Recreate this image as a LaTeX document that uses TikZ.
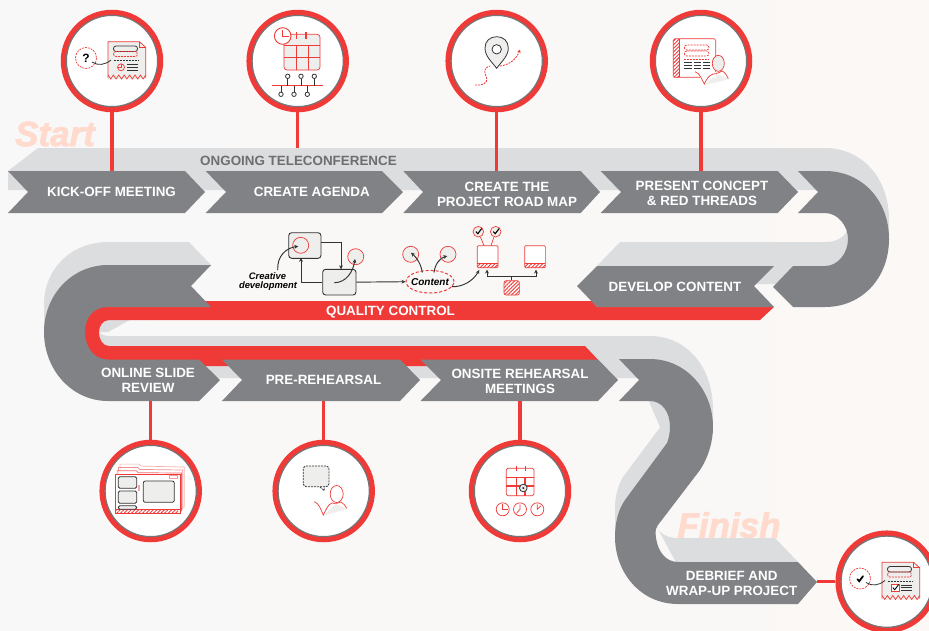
\documentclass[tikz,border=0pt]{standalone}
\usepackage{fontspec}
\setmainfont{Liberation Sans}
\newfontfamily\bigf{Liberation Sans}[BoldItalicFeatures={FakeBold=2.2}]
\usetikzlibrary{arrows.meta,patterns.meta,calc,shapes.geometric}
\definecolor{bgl}{HTML}{F8F8F8}
\definecolor{bgr}{HTML}{FBF8F6}
\definecolor{dk}{HTML}{808285}
\definecolor{lt}{HTML}{DCDDDF}
\definecolor{rd}{HTML}{EF3A38}
\definecolor{pale}{HTML}{FFDACD}
\definecolor{ic}{HTML}{EEEEEC}
\definecolor{ink}{HTML}{333333}
\definecolor{tele}{HTML}{6D6E71}
\tikzset{
  lbl/.style={text=white,font=\bfseries\fontsize{13.4}{15}\selectfont,align=center,inner sep=0pt},
  ring/.style={circle,draw=rd,line width=5.5pt,fill=white,minimum size=97pt,inner sep=0pt},
  innerring/.style={draw=dk!90!black,line width=1.2pt},
  stem/.style={draw=rd,line width=3.4pt},
  rl/.style={draw=rd,line width=.7pt},
  kl/.style={draw=ink,line width=.8pt},
  rdash/.style={draw=rd,line width=.7pt,dash pattern=on 2pt off 1pt},
  kdash/.style={draw=ink,line width=.8pt,dash pattern=on 2pt off 1pt},
  hatch/.style={pattern={Lines[angle=45,distance=2.6pt,line width=.9pt]},pattern color=rd},
  conn/.style={draw=ink,line width=.95pt,-{Stealth[length=4pt,width=3.8pt]}},
  bigword/.style={text=pale,font=\bigf\bfseries\itshape\fontsize{35}{35}\selectfont,inner sep=0pt},
  dtext/.style={text=black,font=\bfseries\itshape\fontsize{9.4}{10}\selectfont,inner sep=0pt},
}
\newcommand{\ringat}[3]{\node[ring] (#1) at (#2,#3) {};\draw[innerring] (#2,#3) circle (45.6);}
\newcommand{\docbase}{%
  \fill[ic] (108,41.7) -- (139.5,41.7) -- (145.7,47.3) -- (145.7,79) -- (108,79) -- cycle;
  \draw[rl] (108,78) -- (108,41.7) -- (139.5,41.7) -- (145.7,47.3) -- (145.7,78);
  \draw[rl] (139.5,41.7) -- (139.5,47.3) -- (145.7,47.3);
  \draw[rl] (108,75) -- (110.7,79) -- (113.4,75) -- (116.1,79) -- (118.8,75) -- (121.5,79) -- (124.2,75) -- (126.9,79) -- (129.6,75) -- (132.3,79) -- (135,75) -- (137.7,79) -- (140.4,75) -- (143.1,79) -- (145.7,75);
  \draw[kl,rounded corners=2.5pt] (113.5,46) rectangle (137.5,51.5);
  \draw[rdash,rounded corners=2.5pt] (113.5,51.5) rectangle (137.5,56.5);
  \draw[kdash] (113.5,60.5) -- (137.7,60.5);
  \foreach \yy in {64.7,67.3,70}{\draw[kl] (127,\yy) -- (137.7,\yy);}
  \draw[rdash] (86,58) circle (10.5);
  \draw[kl] (92,62) .. controls (98,66) and (105,65) .. (111,60);
}
\newcommand{\chk}[3]{\draw[black,line width=#3,line cap=round] (#1-2.6,#2+.2) -- (#1-.8,#2+2.2) -- (#1+3,#2-2.8);}
\newcommand{\clockat}[4]{\draw[rl] (#1,#2) circle (6.5);\draw[rl] (#1,#2-5) -- (#1,#2) -- (#1+#3,#2+#4);}
\begin{document}
\begin{tikzpicture}[x=1pt,y=-1pt]
\useasboundingbox (0,0) rectangle (929,630);
\shade[left color=bgl,right color=bgr] (0,0) rectangle (929,630);

% big words
\node[bigword] (startw) at (55,134) {Start};
\node[bigword] (finishw) at (729,525) {Finish};

% light ribbon
\fill[lt] (8,171) -- (38,148) -- (825,148) .. controls (862,148) and (889,178) .. (889,220) -- (889,240) -- (856,240) -- (835,205) -- (817,190) -- (8,190) -- cycle;
\fill[lt] (597,266) -- (620,242) -- (825,242) .. controls (836,242) and (844,238) .. (848,229) -- (860,260) -- (793,284) -- (754,284) -- (597,284) -- cycle;
\fill[lt] (211,265) -- (189,242) -- (108,242) .. controls (72,242) and (44,268) .. (44,305) -- (44,332) -- (108,332) -- (191,286) -- cycle;
\fill[lt] (99,332) .. controls (102,335) and (105,336) .. (110,336) -- (650,336) .. controls (686,336) and (713,366) .. (713,410) -- (713,427) -- (660,427) -- (639,378) -- (110,378) -- (99,378) -- cycle;
\fill[lt] (670,414) -- (623,477) .. controls (618,485) and (615,497) .. (615,507) -- (615,540) -- (670,440) -- cycle;
\fill[lt] (657,527) .. controls (660,534) and (668,538) .. (677,538) -- (775,538) -- (798,562) -- (680,570) -- cycle;

% red band
\fill[rd] (205,301) -- (592,301) -- (597,307) -- (774,307) -- (760,320) -- (109,320)
  .. controls (103,320) and (99,326) .. (99,332) .. controls (99,340) and (103,346) .. (109,346)
  -- (585,346) -- (604,366) -- (108,366) .. controls (85,366) and (75,350) .. (75,332) .. controls (75,315) and (85,301) .. (108,301) -- cycle;

% dark ribbon
\fill[dk] (8,171) -- (185,171) -- (205,192) -- (185,213) -- (8,213) -- (28,192) -- cycle;
\fill[dk] (205.7,171) -- (382,171) -- (403,192) -- (382,213) -- (205.7,213) -- (226,192) -- cycle;
\fill[dk] (403.3,171) -- (580.7,171) -- (600,192) -- (580.7,213) -- (403.3,213) -- (423,192) -- cycle;
\fill[dk] (600.7,171) -- (777.7,171) -- (798,192) -- (777.7,213) -- (600.7,213) -- (621,192) -- cycle;
\fill[dk] (798,171) -- (825,171) .. controls (862,171) and (889,200) .. (889,239) .. controls (889,278) and (862,307) .. (825,307) -- (793,307) -- (773,287) -- (793,266) -- (825,266) .. controls (838,266) and (848,253) .. (848,239) .. controls (848,226) and (838,213) .. (825,213) -- (798,213) -- (818,192) -- cycle;
\fill[dk] (577,286) -- (597,266) -- (774,266) -- (754,286) -- (774,307) -- (597,307) -- cycle;
\fill[dk] (211,265) -- (108,265) .. controls (72,265) and (44,295) .. (44,332) .. controls (44,370) and (72,401) .. (108,401) -- (199,401) -- (220,380) -- (199,359.5) -- (108,359.5) .. controls (93,359.5) and (85,346) .. (85,332) .. controls (85,318) and (93,307) .. (108,307) -- (211,307) -- (191,286) -- cycle;
\fill[dk] (222,359.5) -- (400,359.5) -- (420,380) -- (400,401) -- (222,401) -- (242,380) -- cycle;
\fill[dk] (420.5,359.5) -- (598,359.5) -- (618,380) -- (598,401) -- (420.5,401) -- (441,380) -- cycle;
\fill[dk] (619,359) -- (650,359) .. controls (686,359) and (713,390) .. (713,427) .. controls (713,442) and (708,458) .. (700,470) -- (658,525) .. controls (654,530) and (656,535) .. (656,538) .. controls (658,552) and (666,562) .. (678,562) -- (798,562) -- (817,582) -- (798,604) -- (678,604) .. controls (640,604) and (615,572) .. (615,537) .. controls (615,523) and (618,510) .. (625,500) -- (667,443) .. controls (669,438) and (670,432) .. (670,427) .. controls (670,412) and (662,401) .. (650,401) -- (619,401) -- (639,380) -- cycle;

% labels
\node[text=tele,font=\bfseries\fontsize{13.4}{15}\selectfont,inner sep=0pt] (tele) at (298.5,160.5) {ONGOING TELECONFERENCE};
\node[lbl] (t1) at (111.5,191.5) {KICK-OFF MEETING};
\node[lbl] (t2) at (311.8,191.5) {CREATE AGENDA};
\node[lbl] (t3) at (507,194) {CREATE THE\\PROJECT ROAD MAP};
\node[lbl] (t4) at (702,193.5) {PRESENT CONCEPT\\\& RED THREADS};
\node[lbl] (t5) at (675,286.5) {DEVELOP CONTENT};
\node[lbl] (tq) at (390.5,312.5) {QUALITY CONTROL};
\node[lbl] (t6) at (148,380.7) {ONLINE SLIDE\\REVIEW};
\node[lbl] (t7) at (323.5,379.5) {PRE-REHEARSAL};
\node[lbl] (t8) at (520,381) {ONSITE REHEARSAL\\MEETINGS};
\node[lbl] (t9) at (731.7,583.5) {DEBRIEF AND\\WRAP-UP PROJECT};

% stems
\coordinate (e1) at (112,171);
\coordinate (e2) at (297.7,148);
\coordinate (e3) at (496.7,171);
\coordinate (e4) at (701,171);
\coordinate (e5) at (150.7,401);
\coordinate (e6) at (323.7,401);
\coordinate (e7) at (520,401);
\coordinate (e8) at (817,581.7);
% rings
\ringat{c1}{112}{61}
\ringat{c2}{297.7}{61}
\ringat{c3}{496.7}{61}
\ringat{c4}{701}{61}
\ringat{c5}{150.7}{491}
\ringat{c6}{323.7}{491}
\ringat{c7}{520}{491}
\ringat{c8}{886.7}{581.7}
\draw[stem] (c1) -- (e1);
\draw[stem] (c2) -- (e2);
\draw[stem] (c3) -- (e3);
\draw[stem] (c4) -- (e4);
\draw[stem] (c5) -- (e5);
\draw[stem] (c6) -- (e6);
\draw[stem] (c7) -- (e7);
\draw[stem] (c8) -- (e8);

% icon 1: document with question
\docbase
\draw[rl] (121,67.3) circle (3.5);\draw[rl] (121,63.8) -- (121,67.3) -- (117.5,67.3);
\node[text=black,font=\bfseries\fontsize{12}{12}\selectfont,inner sep=0pt] (q) at (86,58.5) {?};

% icon 8: document with check
\begin{scope}[shift={(774,520.5)}]
\docbase
\draw[rl,fill=white] (117.5,63.5) rectangle (125,71);
\chk{121.5}{67}{.9pt}
\chk{86}{58.5}{1.8pt}
\end{scope}

% icon 2: calendar and timeline
\draw[rl,fill=ic,rounded corners=3pt] (284,34.3) rectangle (320,70);
\draw[rl] (296,45.7) -- (296,70) (308,45.7) -- (308,70) (284,45.7) -- (320,45.7) (284,57.7) -- (320,57.7);
\draw[draw=rd,line width=1.1pt] (296.7,31.7) -- (296.7,39.3) (306,31.7) -- (306,39.3);
\draw[rl,fill=white,line width=.9pt] (282.7,36) circle (8.3);
\draw[rl] (282.7,30) -- (282.7,36) -- (288.5,36);
\draw[rl,line width=.9pt] (271.7,85.7) -- (323.3,85.7);
\foreach \xx in {287.7,301,314.3}{\draw[kl] (\xx,78.6) -- (\xx,85.7);\draw[kl,fill=white] (\xx,76.3) circle (2.2);}
\foreach \xx in {281,294,307.3}{\draw[kl] (\xx,85.7) -- (\xx,92);\draw[kl,fill=white] (\xx,94.3) circle (2.2);}

% icon 3: map pin and route
\draw[rdash,line width=.8pt] (475,85) .. controls (482,86) and (488,83) .. (486.7,78) .. controls (484,72) and (483,68) .. (490,66);
\draw[rdash,line width=.8pt,-{Stealth[length=3.5pt,width=3.5pt]}] (500,66) .. controls (510,65) and (517,58) .. (520,49.5);
\draw[kl,fill=ic] (496.7,68.3) .. controls (491,61) and (485,56) .. (485,48) .. controls (485,41) and (490,36.7) .. (496.7,36.7) .. controls (503.4,36.7) and (508.3,41) .. (508.3,48) .. controls (508.3,56) and (502,61) .. (496.7,68.3) -- cycle;
\draw[kl,fill=white] (496.7,49.3) circle (4.7);

% icon 4: book and presenter
\draw[rl,fill=white,rounded corners=1.5pt] (673.3,38.7) rectangle (715.7,77.3);
\path[hatch] (673.3,39) rectangle (679,77);
\draw[rl] (679,38.7) -- (679,77.3);
\draw[rdash,rounded corners=2.5pt] (684.3,45) rectangle (709,50);
\draw[rdash,rounded corners=2.5pt] (684.3,51) rectangle (709,56);
\draw[rdash] (684.3,59.3) -- (709,59.3);
\foreach \yy in {62.7,65.3,68}{\draw[kl] (684.3,\yy) -- (692,\yy) (693.5,\yy) -- (701,\yy) (702.5,\yy) -- (709.5,\yy);}
\fill[ic] (705,85) -- (716,74) -- (729,79) -- cycle;
\fill[white] (700,72) rectangle (716,78);
\draw[rl] (695,71.7) .. controls (700,73) and (702,80) .. (704.3,84) .. controls (706,80) and (709,75) .. (713,74) .. controls (717,74) and (720,72) .. (722,71) .. controls (725,72) and (727,76) .. (728.3,78.7);
\draw[rl,fill=ic] (718.3,63.3) ellipse (6 and 8);

% icon 5: stacked windows
\foreach \dd/\op in {3/.4,2/.55,1/.75}{
  \draw[rl,opacity=\op,fill=white] (115.7+\dd*1.4,474-\dd*3.3) -- (135+\dd*1.4,474-\dd*3.3) -- (137+\dd*1.4,476-\dd*3.3) -- (180+\dd*1.4,476-\dd*3) -- (180+\dd*1.4,513-\dd*2) -- (115.7+\dd*1.4,513-\dd*2) -- cycle;
}
\draw[rl,fill=white] (115.7,474) rectangle (180,513.3);
\path[hatch] (115.7,509.3) rectangle (178,513.3);
\draw[rl] (115.7,509.3) -- (180,509.3);
\draw[kl,fill=ic,rounded corners=1.5pt] (118.3,476.7) rectangle (136.7,488.3);
\draw[kl,fill=ic,rounded corners=1.5pt] (118.3,491) rectangle (136.7,503.3);
\draw[kl,fill=ic,rounded corners=1.5pt] (118.3,505.7) -- (118.3,509.3) -- (136.7,509.3) -- (136.7,505.7) -- cycle;
\draw[kl,fill=ic,rounded corners=2pt] (143.3,481) rectangle (174.3,502.3);
\fill[rd!45] (138.3,485) rectangle (139.7,490.7);
\draw[rl,opacity=.5] (169,475.5) rectangle (177,478);

% icon 6: speech bubble and person
\draw[kdash,fill=ic,rounded corners=3pt] (303.3,466) rectangle (329,486.7);
\draw[kdash] (320,487) -- (324.3,490.7) -- (324.3,486.7);
\fill[ic] (323,516) -- (336,504) -- (347,509) -- cycle;
\draw[rl] (314.3,501.7) .. controls (319,503) and (321,510) .. (323.3,515) .. controls (326,510) and (328,504) .. (332,503) .. controls (336,504) and (338,503) .. (341,502) .. controls (344,503) and (345,506) .. (346.7,508.3);
\draw[rl,fill=white] (336.7,494) ellipse (6.5 and 8.5);

% icon 7: calendar and clocks
\draw[rl,fill=white,rounded corners=1.5pt] (506.3,468.3) rectangle (534,495.7);
\draw[draw=rd,line width=1.1pt] (516.7,477.3) -- (516.7,495.7) (525,477.3) -- (525,495.7) (506.3,477.3) -- (534,477.3) (506.3,486) -- (534,486);
\draw[rl,line width=1pt] (516.7,465.7) -- (516.7,471) (525,465.7) -- (525,471);
\draw[kl,fill=ic] (523.3,488) circle (3.8);
\fill[ink] (523.3,488) circle (1.2);
\clockat{502.7}{509.3}{5}{0}
\clockat{520}{509.3}{-3.5}{4}
\clockat{537.3}{509.3}{3.5}{-3.5}

% central process diagram
\node[draw=ink,line width=.9pt,fill=ic,rounded corners=3pt,minimum width=32.3pt,minimum height=25.6pt,inner sep=0pt] (boxa) at (304.85,245.5) {};
\node[draw=ink,line width=.9pt,fill=ic,rounded corners=3pt,minimum width=33.3pt,minimum height=25.7pt,inner sep=0pt] (boxb) at (339.35,282.15) {};
\node[circle,rl,minimum size=16pt,inner sep=0pt] (ca) at (300.7,245.3) {};
\node[circle,rl,fill=ic,minimum size=16pt,inner sep=0pt] (cc) at (355.7,256.7) {};
\node[circle,rl,fill=ic,minimum size=16pt,inner sep=0pt] (cd) at (410.7,254.3) {};
\node[circle,rl,fill=ic,minimum size=16pt,inner sep=0pt] (ce) at (448,254.3) {};
\node[ellipse,draw=rd,line width=1pt,dash pattern=on 3pt off 2pt,minimum width=48pt,minimum height=22.6pt,inner sep=0pt] (cont) at (430,281.7) {};
\node[dtext,font=\bfseries\itshape\fontsize{10}{10}\selectfont] (contt) at (430,281.7) {Content};
\node[dtext] (cr1) at (267.5,276) {Creative};
\node[dtext] (cr2) at (268,286) {development};
\coordinate (ab) at (341,269.3);
\coordinate (ba) at (301,257.8);
\draw[conn] ([yshift=2.8pt]boxa.east) -| (ab);
\draw[conn] (boxb.west) -| (ba);
\draw[conn] (boxb.east) -- (cont.west);
\draw[conn] (334.3,282.7) .. controls (346,282.7) and (353,272) .. (355,259);
\draw[conn] (277.7,270) .. controls (277,256) and (286,248) .. (298.3,246.3);
\draw[conn] (422.3,272.5) .. controls (421,264) and (417,258) .. (411,252.7);
\draw[conn] (434,272.5) .. controls (435,264) and (440,258) .. (447.3,256);
\draw[conn] (451.7,286.7) .. controls (463,287) and (473,281) .. (479.3,270);
\node[rl,fill=white,rounded corners=1pt,minimum width=20.7pt,minimum height=22pt,inner sep=0pt] (boxf) at (487.65,256.7) {};
\node[rl,fill=white,rounded corners=1pt,minimum width=20.7pt,minimum height=22pt,inner sep=0pt] (boxg) at (535,256.7) {};
\path[hatch] (477.6,263.7) rectangle (497.7,267.5);
\path[hatch] (525,263.7) rectangle (545,267.5);
\draw[rl] (477.3,263.7) -- (498,263.7) (524.7,263.7) -- (545.3,263.7);
\node[circle,rl,fill=ic,minimum size=10.6pt,inner sep=0pt] (ck1) at (478.3,231.7) {};
\node[circle,rl,fill=ic,minimum size=10.6pt,inner sep=0pt] (ck2) at (495.7,231.7) {};
\chk{478.6}{231.5}{1.1pt}
\chk{496}{231.5}{1.1pt}
\draw[rl] (ck1) -- (484,245.7);
\draw[rl] (ck2) -- (491,245.7);
\node[rl,rounded corners=2pt,hatch,minimum width=15.3pt,minimum height=14.3pt,inner sep=0pt] (boxh) at (511.7,287.85) {};
\coordinate (br1) at (487,269.5);
\coordinate (br2) at (536,269.5);
\coordinate (brl) at (487,276.7);
\coordinate (brr) at (536,276.7);
\draw[conn] (brl) -- (br1);
\draw[conn] (brr) -- (br2);
\draw[kl,line width=.95pt] (brl) -- (brr);
\draw[kl,line width=.95pt] (511.7,276.7) -- (boxh.north);
\end{tikzpicture}
\end{document}
